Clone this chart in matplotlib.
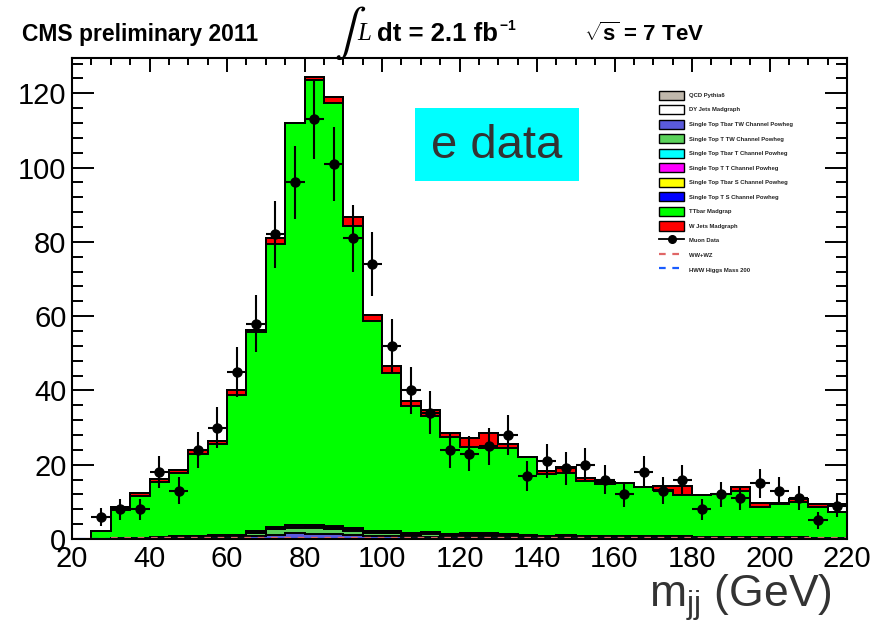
import numpy as np
import matplotlib
matplotlib.use("Agg")
import matplotlib.pyplot as plt
from matplotlib.patches import Patch, Rectangle
from matplotlib.lines import Line2D

plt.rcParams["font.family"] = ["Liberation Sans", "DejaVu Sans"]
plt.rcParams["mathtext.fontset"] = "custom"
plt.rcParams["mathtext.rm"] = "Liberation Sans"
plt.rcParams["mathtext.it"] = "Liberation Sans:italic"
plt.rcParams["mathtext.bf"] = "Liberation Sans:bold"

# 5 GeV bins of dijet invariant mass
bin_edges = np.arange(20, 225, 5)

data_counts = [0, 6, 8, 8, 18, 13, 24, 30, 45, 58, 82, 96, 113, 101, 81, 74, 52, 40, 34, 24,
               23, 25, 28, 17, 21, 19, 20, 16, 12, 18, 13, 16, 8, 12, 11, 15, 13, 11, 5, 9]

stbar_tw = [0.0, 0.0, 0.1, 0.1, 0.2, 0.2, 0.3, 0.3, 0.4, 0.8, 1.2, 1.5, 1.4, 1.3, 1.0, 0.8, 0.7, 0.5, 0.6, 0.5,
            0.5, 0.5, 0.4, 0.4, 0.3, 0.3, 0.3, 0.3, 0.3, 0.2, 0.2, 0.2, 0.2, 0.2, 0.2, 0.2, 0.2, 0.2, 0.1, 0.1]
st_tw = [0.0, 0.0, 0.1, 0.1, 0.2, 0.3, 0.3, 0.4, 0.4, 0.8, 1.4, 1.5, 1.5, 1.4, 1.2, 0.9, 0.8, 0.6, 0.8, 0.5,
         0.6, 0.6, 0.5, 0.4, 0.4, 0.4, 0.4, 0.3, 0.3, 0.3, 0.3, 0.3, 0.2, 0.3, 0.3, 0.2, 0.2, 0.2, 0.2, 0.2]
stbar_t = [0.0, 0.0, 0.0, 0.0, 0.0, 0.1, 0.1, 0.1, 0.1, 0.1, 0.1, 0.2, 0.2, 0.1, 0.1, 0.1, 0.1, 0.1, 0.1, 0.1,
           0.1, 0.1, 0.1, 0.1, 0.0, 0.1, 0.0, 0.0, 0.1, 0.0, 0.0, 0.1, 0.0, 0.0, 0.0, 0.0, 0.1, 0.0, 0.0, 0.0]
st_t = [0.0, 0.1, 0.0, 0.1, 0.1, 0.1, 0.2, 0.2, 0.2, 0.3, 0.4, 0.5, 0.5, 0.5, 0.5, 0.4, 0.4, 0.3, 0.3, 0.3,
        0.3, 0.3, 0.3, 0.2, 0.2, 0.2, 0.2, 0.2, 0.2, 0.2, 0.2, 0.2, 0.1, 0.1, 0.1, 0.1, 0.1, 0.1, 0.1, 0.1]
stbar_s = [0.0, 0.0, 0.0, 0.0, 0.0, 0.0, 0.0, 0.0, 0.0, 0.05, 0.05, 0.05, 0.05, 0.05, 0.05, 0.05, 0.05, 0.0, 0.0, 0.0,
           0.0, 0.0, 0.0, 0.0, 0.0, 0.0, 0.0, 0.0, 0.0, 0.0, 0.0, 0.0, 0.0, 0.0, 0.0, 0.0, 0.0, 0.0, 0.0, 0.0]
st_s = [0.0, 0.0, 0.0, 0.0, 0.0, 0.0, 0.0, 0.0, 0.05, 0.05, 0.05, 0.05, 0.05, 0.05, 0.05, 0.0, 0.0, 0.0, 0.0, 0.0,
        0.0, 0.0, 0.0, 0.0, 0.0, 0.0, 0.0, 0.0, 0.0, 0.0, 0.0, 0.0, 0.0, 0.0, 0.0, 0.0, 0.0, 0.0, 0.0, 0.0]
ttbar = [0.0, 2.1, 7.6, 11.2, 14.9, 17.1, 22.0, 24.6, 37.5, 53.5, 76.3, 108.1, 119.8, 113.9, 81.3, 56.5, 42.7, 34.2, 31.4, 26.0,
         23.4, 22.9, 23.3, 21.1, 16.6, 16.7, 14.8, 14.1, 14.2, 13.4, 12.5, 11.0, 11.3, 11.5, 12.4, 8.1, 8.8, 9.5, 8.2, 6.9]
wjets = [0.0, 0.0, 0.8, 0.9, 0.8, 0.9, 1.1, 0.9, 1.6, 0.7, 1.5, 0.2, 0.8, 1.6, 2.4, 1.6, 1.8, 1.5, 1.6, 1.1,
         2.4, 4.1, 0.9, 0.0, 0.9, 1.6, 0.6, 0.4, 0.0, 0.0, 1.2, 2.6, 0.0, 0.0, 0.9, 1.0, 0.3, 0.9, 0.7, 0.0]
dy_jets = [0.0] * 39 + [2.0]
qcd = [0.0] * 40
ww_wz = [0.0, 0.1, 0.2, 0.2, 0.2, 0.3, 0.3, 0.3, 0.3, 0.4, 0.4, 0.4, 0.4, 0.4, 0.3, 0.3, 0.3, 0.3, 0.3, 0.2,
         0.2, 0.2, 0.2, 0.2, 0.2, 0.2, 0.2, 0.2, 0.2, 0.2, 0.2, 0.2, 0.2, 0.2, 0.2, 0.2, 0.2, 0.2, 0.2, 0.2]
hww_200 = [0.0, 0.0, 0.1, 0.1, 0.1, 0.1, 0.1, 0.1, 0.1, 0.1, 0.1, 0.1, 0.1, 0.1, 0.1, 0.1, 0.1, 0.1, 0.1, 0.1,
           0.1, 0.1, 0.1, 0.1, 0.1, 0.1, 0.1, 0.1, 0.1, 0.1, 0.1, 0.1, 0.1, 0.1, 0.1, 0.1, 0.1, 0.1, 0.1, 0.1]

colors = {
    "QCD Pythia6": "#c0b8ac",
    "DY Jets Madgraph": "#ffffff",
    "Single Top Tbar TW Channel Powheg": "#5a5adc",
    "Single Top T TW Channel Powheg": "#5ad25a",
    "Single Top Tbar T Channel Powheg": "#00ffff",
    "Single Top T T Channel Powheg": "#ff00ff",
    "Single Top Tbar S Channel Powheg": "#ffff00",
    "Single Top T S Channel Powheg": "#0000ff",
    "TTbar Madgrap": "#00ff00",
    "W Jets Madgraph": "#ff0000",
}

# stacking order, bottom to top
stack = [
    ("Single Top Tbar TW Channel Powheg", stbar_tw),
    ("Single Top T TW Channel Powheg", st_tw),
    ("Single Top Tbar T Channel Powheg", stbar_t),
    ("Single Top T T Channel Powheg", st_t),
    ("Single Top Tbar S Channel Powheg", stbar_s),
    ("Single Top T S Channel Powheg", st_s),
    ("TTbar Madgrap", ttbar),
    ("W Jets Madgraph", wjets),
    ("DY Jets Madgraph", dy_jets),
    ("QCD Pythia6", qcd),
]

W, H = 886, 623
fig = plt.figure(figsize=(W / 100, H / 100), dpi=100)
L, R, T, B = 72, 847, 58, 539
ax = fig.add_axes([L / W, 1 - B / H, (R - L) / W, (B - T) / H])

below = np.zeros(len(data_counts))
for name, vals in stack:
    top = below + np.asarray(vals, dtype=float)
    ax.stairs(top, bin_edges, baseline=below, fill=True, facecolor=colors[name],
              edgecolor="none", zorder=2)
    ax.stairs(top, bin_edges, baseline=0, color="black", lw=1.4, zorder=3)
    below = top

ax.stairs(ww_wz, bin_edges, baseline=None, color="#e06666", lw=1.6,
          linestyle=(0, (3, 3)), zorder=4)
ax.stairs(hww_200, bin_edges, baseline=None, color="#1a5cff", lw=1.6,
          linestyle=(3, (3, 3)), zorder=4)

centers = 0.5 * (bin_edges[:-1] + bin_edges[1:])
d = np.asarray(data_counts, dtype=float)
m = d > 0
ax.errorbar(centers[m], d[m], xerr=2.5, yerr=np.sqrt(d[m]), fmt="o", color="black",
            ms=6.5, elinewidth=1.5, capsize=0, zorder=5)

ax.set_xlim(20, 220)
ax.set_ylim(0, 129.5)
ax.set_xticks(np.arange(20, 221, 20))
ax.set_xticks(np.arange(20, 221, 5), minor=True)
ax.set_yticks(np.arange(0, 121, 20))
ax.set_yticks(np.arange(0, 129, 4), minor=True)
ax.tick_params(axis="both", which="both", direction="in", top=True, right=True,
               width=1.4, labelsize=21, colors="black")
ax.tick_params(axis="x", which="major", length=10, pad=4)
ax.tick_params(axis="x", which="minor", length=5)
ax.tick_params(axis="y", which="major", length=16, pad=4)
ax.tick_params(axis="y", which="minor", length=8)
for s in ax.spines.values():
    s.set_linewidth(1.5)
    s.set_zorder(6)

# labelled box
ax.add_patch(Rectangle((415 / W, 1 - 181 / H), 164 / W, 73 / H, transform=fig.transFigure,
                       facecolor="#00ffff", edgecolor="none", zorder=7))
fig.text(497 / W, 1 - 146 / H, "e data", fontsize=34, color="#333333",
         ha="center", va="center", zorder=8)

# x axis title
fig.text(832 / W, 1 - 607 / H, r"m$_{\mathrm{jj}}$ (GeV)", fontsize=32, color="#333333",
         ha="right", va="baseline")

# header line
fig.text(22 / W, 1 - 34 / H, "CMS preliminary 2011", fontsize=16.5, fontweight="bold",
         ha="left", va="center")
fig.text(334 / W, 1 - 33 / H, "\u222b", fontsize=34, family="STIXGeneral",
         ha="left", va="center")
fig.text(357 / W, 1 - 34 / H, "L", fontsize=18, family="Liberation Serif", style="italic",
         ha="left", va="center")
fig.text(377 / W, 1 - 34 / H, "dt = 2.1 fb", fontsize=18.5,
         fontweight="bold", ha="left", va="center")
fig.text(499 / W, 1 - 26 / H, r"$\mathbf{-1}$", fontsize=10,
         ha="left", va="center")
fig.text(584 / W, 1 - 34 / H, r"$\sqrt{\mathbf{s}}$ = 7 TeV", fontsize=16,
         fontweight="bold", ha="left", va="center")

# legend entries, listed top to bottom
legend_order = ["QCD Pythia6", "DY Jets Madgraph", "Single Top Tbar TW Channel Powheg",
                "Single Top T TW Channel Powheg", "Single Top Tbar T Channel Powheg",
                "Single Top T T Channel Powheg", "Single Top Tbar S Channel Powheg",
                "Single Top T S Channel Powheg", "TTbar Madgrap", "W Jets Madgraph"]
handles = [Patch(facecolor=colors[n], edgecolor="black", lw=1.0) for n in legend_order]
labels = list(legend_order)
handles += [Line2D([], [], color="black", lw=1.3, marker="o", ms=5.5),
            Line2D([], [], color="#e06666", lw=1.6, linestyle=(0, (3, 3))),
            Line2D([], [], color="#1a5cff", lw=1.6, linestyle=(0, (3, 3)))]
labels += ["Muon Data", "WW+WZ", "HWW Higgs Mass 200"]
leg = ax.legend(handles, labels, loc="upper left",
                bbox_to_anchor=(659 / W, 1 - 90.5 / H), bbox_transform=fig.transFigure,
                frameon=False, borderpad=0, borderaxespad=0,
                prop={"size": 4.2, "weight": "bold"},
                handlelength=4.3, handleheight=2.0, labelspacing=0.95, handletextpad=0.85)
for t in leg.get_texts():
    t.set_color("#222222")

fig.savefig("out.png", dpi=100)
